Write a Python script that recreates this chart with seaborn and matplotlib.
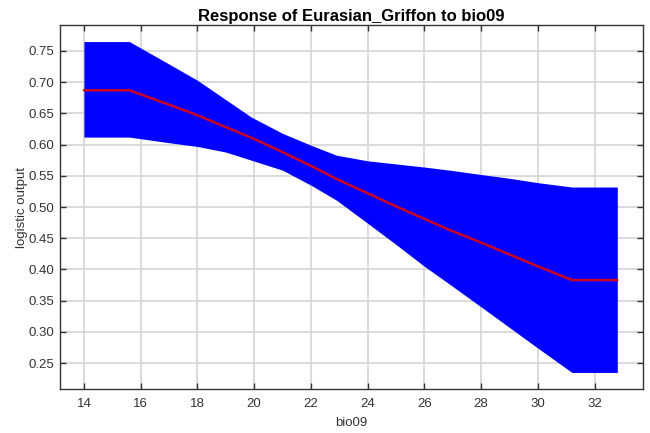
import matplotlib
matplotlib.use("Agg")
import matplotlib.pyplot as plt
import seaborn as sns
import pandas as pd
import numpy as np

# Data
bio09 = [14.0, 15.6, 17.0, 18.0, 19.0, 19.9, 21.0, 22.0, 22.9, 24.0, 25.0,
         26.0, 26.9, 28.0, 29.0, 30.0, 31.2, 32.8]
upper = [0.765, 0.765, 0.729, 0.703, 0.672, 0.644, 0.618, 0.599, 0.583, 0.574,
         0.569, 0.564, 0.559, 0.552, 0.546, 0.539, 0.532, 0.532]
mean = [0.687, 0.687, 0.664, 0.647, 0.628, 0.611, 0.588, 0.566, 0.545, 0.522,
        0.501, 0.481, 0.463, 0.443, 0.424, 0.405, 0.383, 0.383]
lower = [0.612, 0.612, 0.603, 0.597, 0.588, 0.575, 0.559, 0.535, 0.511, 0.474,
         0.440, 0.405, 0.376, 0.340, 0.307, 0.274, 0.235, 0.235]

xticks = [14, 16, 18, 20, 22, 24, 26, 28, 30, 32]
yticks = [0.25, 0.30, 0.35, 0.40, 0.45, 0.50, 0.55, 0.60, 0.65, 0.70, 0.75]

df = pd.DataFrame({"bio09": bio09, "mean": mean, "upper": upper, "lower": lower})

sns.set_theme(style="whitegrid")
plt.rcParams["font.family"] = ["Liberation Sans", "DejaVu Sans"]

fig = plt.figure(figsize=(6.5, 4.33), dpi=100)
ax = fig.add_axes([0.092, 0.1016, 0.897, 0.8406])

ax.fill_between(df["bio09"], df["lower"], df["upper"], color="#0000ff",
                linewidth=0, zorder=2)
sns.lineplot(data=df, x="bio09", y="mean", ax=ax, color="#cc0022",
             linewidth=1.8, zorder=3)

ax.set_xlim(13.15, 33.7)
ax.set_ylim(0.2085, 0.7915)
ax.set_xticks(xticks)
ax.set_xticklabels([str(t) for t in xticks])
ax.set_yticks(yticks)
ax.set_yticklabels([f"{t:.2f}" for t in yticks])

ax.grid(True, color="#d4d4d4", linewidth=1.2, zorder=0)
ax.set_axisbelow(True)
for s in ax.spines.values():
    s.set_visible(True)
    s.set_color("#333333")
    s.set_linewidth(1.0)

ax.tick_params(axis="both", which="both", direction="in", length=4, width=1,
               color="#333333", labelsize=9.5, labelcolor="#333333",
               top=True, right=True, bottom=True, left=True)
ax.tick_params(axis="x", pad=6.7)
ax.tick_params(axis="y", pad=4)

ax.set_xlabel("bio09", fontsize=9.5, color="#333333", labelpad=5)
ax.set_ylabel("logistic output", fontsize=9.5, color="#333333", labelpad=0.5)
ax.set_title("Response of Eurasian_Griffon to bio09", fontsize=12,
             fontweight="bold", color="black", pad=3)

fig.savefig("out.png", dpi=100)
